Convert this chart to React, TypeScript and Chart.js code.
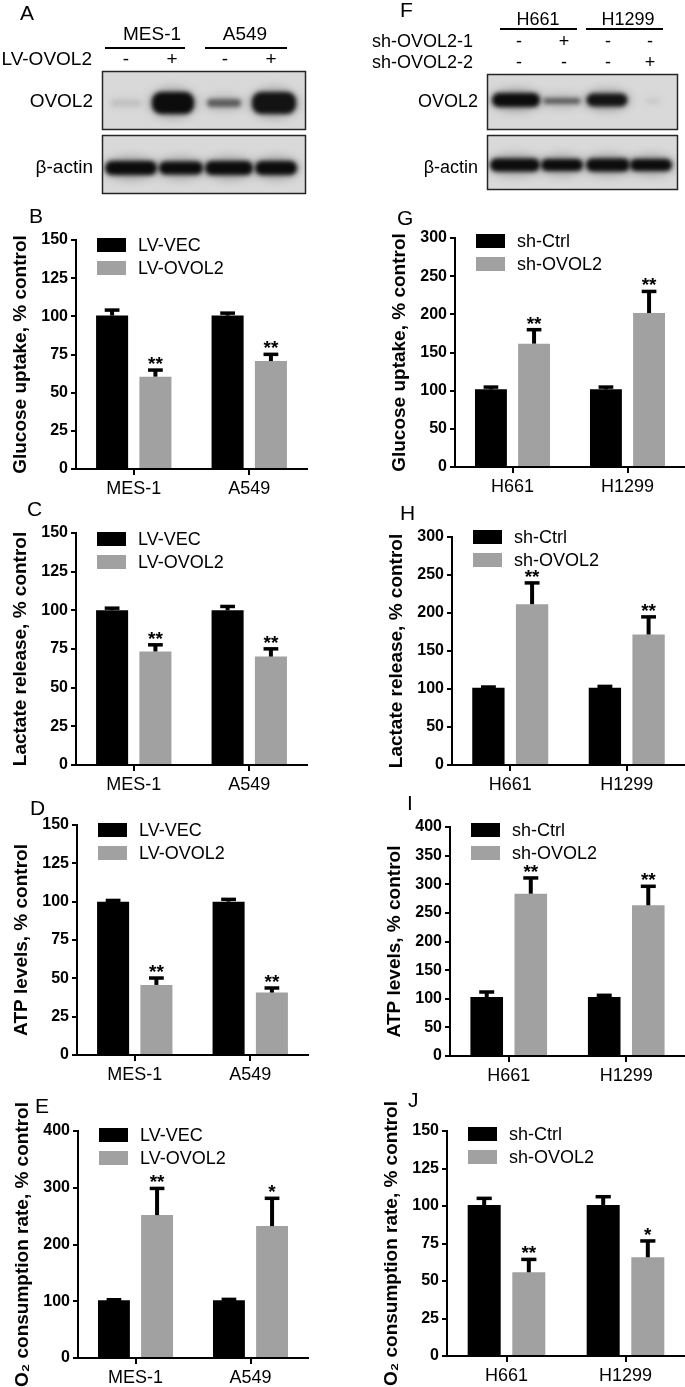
import React, { useEffect, useRef } from "react";
import { Chart, registerables } from "chart.js";

Chart.register(...registerables);

const FONT = "'Liberation Sans', Arial, Helvetica, sans-serif";

// ---------- categories & series ----------
const leftCats = ["MES-1", "A549"];
const rightCats = ["H661", "H1299"];
const leftSeries = ["LV-VEC", "LV-OVOL2"];
const rightSeries = ["sh-Ctrl", "sh-OVOL2"];

// ---------- B: glucose uptake (LV) ----------
const glucoseVec = [100.5, 100.5];
const glucoseVecErr = [3.6, 1.6];
const glucoseOvol = [60.5, 70.7];
const glucoseOvolErr = [4.3, 4.4];
const glucoseOvolSig = ["**", "**"];

// ---------- C: lactate release (LV) ----------
const lactateVec = [100, 100];
const lactateVecErr = [1.4, 2.5];
const lactateOvol = [73.4, 70.1];
const lactateOvolErr = [4.3, 5];
const lactateOvolSig = ["**", "**"];

// ---------- D: ATP levels (LV) ----------
const atpVec = [100, 100];
const atpVecErr = [0.8, 1.5];
const atpOvol = [45.7, 40.7];
const atpOvolErr = [4.5, 3];
const atpOvolSig = ["**", "**"];

// ---------- E: O2 consumption (LV) ----------
const o2Vec = [101.8, 101.8];
const o2VecErr = [0.8, 1.5];
const o2Ovol = [251.8, 232.4];
const o2OvolErr = [47, 49];
const o2OvolSig = ["**", "*"];

// ---------- G: glucose uptake (sh) ----------
const glucoseCtrl = [101.7, 101.7];
const glucoseCtrlErr = [3, 3];
const glucoseSh = [161.6, 201.7];
const glucoseShErr = [18.3, 28.3];
const glucoseShSig = ["**", "**"];

// ---------- H: lactate release (sh) ----------
const lactateCtrl = [101.6, 101.6];
const lactateCtrlErr = [1, 1.8];
const lactateSh = [211.6, 171.7];
const lactateShErr = [28, 23.2];
const lactateShSig = ["**", "**"];

// ---------- I: ATP levels (sh) ----------
const atpCtrl = [103, 103];
const atpCtrlErr = [8.8, 3];
const atpSh = [283.5, 263.2];
const atpShErr = [27.5, 33.2];
const atpShSig = ["**", "**"];

// ---------- J: O2 consumption (sh) ----------
const o2Ctrl = [100.7, 100.7];
const o2CtrlErr = [4.4, 5.5];
const o2Sh = [55.8, 65.8];
const o2ShErr = [8.6, 10.9];
const o2ShSig = ["**", "*"];

// ---------- western blot band intensities ----------
const blotAOvol2 = [0.1, 1, 0.55, 0.95];
const blotAActin = [1, 1, 1, 1];
const blotFOvol2 = [1, 0.55, 0.95, 0.08];
const blotFActin = [1, 1, 1, 1];
const blotASigns = ["-", "+", "-", "+"];
const blotFSigns1 = ["-", "+", "-", "-"];
const blotFSigns2 = ["-", "-", "-", "+"];

// ---------- panel layout ----------
type Panel = {
  side: "L" | "R";
  axisX: number;
  rightX: number;
  topY: number;
  bottomY: number;
  legendDy: number;
  max: number;
  step: number;
  title: string;
  cats: string[];
  series: string[];
  a: number[];
  aErr: number[];
  b: number[];
  bErr: number[];
  sig: string[];
};

const panels: Panel[] = [
  { side: "L", axisX: 76, rightX: 307, topY: 240, bottomY: 469, legendDy: -2, max: 150, step: 25, title: "Glucose uptake, % control", cats: leftCats, series: leftSeries, a: glucoseVec, aErr: glucoseVecErr, b: glucoseOvol, bErr: glucoseOvolErr, sig: glucoseOvolSig },
  { side: "R", axisX: 455, rightX: 685, topY: 238, bottomY: 467, legendDy: -4, max: 300, step: 50, title: "Glucose uptake, % control", cats: rightCats, series: rightSeries, a: glucoseCtrl, aErr: glucoseCtrlErr, b: glucoseSh, bErr: glucoseShErr, sig: glucoseShSig },
  { side: "L", axisX: 76, rightX: 307, topY: 533, bottomY: 765, legendDy: -1, max: 150, step: 25, title: "Lactate release, % control", cats: leftCats, series: leftSeries, a: lactateVec, aErr: lactateVecErr, b: lactateOvol, bErr: lactateOvolErr, sig: lactateOvolSig },
  { side: "R", axisX: 452, rightX: 685, topY: 537, bottomY: 765, legendDy: -7, max: 300, step: 50, title: "Lactate release, % control", cats: rightCats, series: rightSeries, a: lactateCtrl, aErr: lactateCtrlErr, b: lactateSh, bErr: lactateShErr, sig: lactateShSig },
  { side: "L", axisX: 77, rightX: 308, topY: 825, bottomY: 1055, legendDy: -2, max: 150, step: 25, title: "ATP levels, % control", cats: leftCats, series: leftSeries, a: atpVec, aErr: atpVecErr, b: atpOvol, bErr: atpOvolErr, sig: atpOvolSig },
  { side: "R", axisX: 450, rightX: 685, topY: 827, bottomY: 1056, legendDy: -4, max: 400, step: 50, title: "ATP levels, % control", cats: rightCats, series: rightSeries, a: atpCtrl, aErr: atpCtrlErr, b: atpSh, bErr: atpShErr, sig: atpShSig },
  { side: "L", axisX: 78, rightX: 308, topY: 1131, bottomY: 1358, legendDy: -3, max: 400, step: 100, title: "O\u2082 consumption rate, % control", cats: leftCats, series: leftSeries, a: o2Vec, aErr: o2VecErr, b: o2Ovol, bErr: o2OvolErr, sig: o2OvolSig },
  { side: "R", axisX: 447, rightX: 685, topY: 1131, bottomY: 1356, legendDy: -4, max: 150, step: 25, title: "O\u2082 consumption rate, % control", cats: rightCats, series: rightSeries, a: o2Ctrl, aErr: o2CtrlErr, b: o2Sh, bErr: o2ShErr, sig: o2ShSig },
];

const panelLetters = [
  { t: "B", x: 29, y: 223 },
  { t: "G", x: 397, y: 225 },
  { t: "C", x: 27, y: 516 },
  { t: "H", x: 400, y: 520 },
  { t: "D", x: 30, y: 815 },
  { t: "I", x: 407, y: 810 },
  { t: "E", x: 35, y: 1113 },
  { t: "J", x: 408, y: 1107 },
];

// ---------- plugins ----------
const errorBarPlugin = {
  id: "errorBars",
  afterDatasetsDraw(chart: any) {
    const ctx = chart.ctx;
    const yScale = chart.scales.y;
    chart.data.datasets.forEach((ds: any, i: number) => {
      const meta = chart.getDatasetMeta(i);
      meta.data.forEach((bar: any, j: number) => {
        const v = ds.data[j];
        const e = ds.errors[j];
        const yBase = yScale.getPixelForValue(v);
        const yTop = yScale.getPixelForValue(v + e);
        const capW = bar.width * 0.46;
        ctx.save();
        ctx.strokeStyle = "#000";
        ctx.lineCap = "butt";
        ctx.lineWidth = 4;
        ctx.beginPath();
        ctx.moveTo(bar.x, yBase);
        ctx.lineTo(bar.x, yTop);
        ctx.stroke();
        ctx.lineWidth = 3.5;
        ctx.beginPath();
        ctx.moveTo(bar.x - capW / 2, yTop);
        ctx.lineTo(bar.x + capW / 2, yTop);
        ctx.stroke();
        const s = ds.sig ? ds.sig[j] : "";
        if (s) {
          ctx.font = `bold 19px ${FONT}`;
          ctx.fillStyle = "#000";
          ctx.textAlign = "center";
          ctx.textBaseline = "alphabetic";
          const m = ctx.measureText(s);
          const target = yTop - 6;
          ctx.fillText(s, bar.x, target - m.actualBoundingBoxDescent);
        }
        ctx.restore();
      });
    });
  },
};

const innerLegendPlugin = {
  id: "innerLegend",
  afterDraw(chart: any) {
    const ctx = chart.ctx;
    const { left, top } = chart.chartArea;
    const dy = chart.options.plugins.innerLegend?.dy ?? -3;
    chart.data.datasets.forEach((ds: any, i: number) => {
      const bx = left + 21;
      const by = top + dy + i * 23;
      ctx.save();
      ctx.fillStyle = ds.backgroundColor;
      ctx.fillRect(bx, by, 29, 14);
      ctx.font = `18px ${FONT}`;
      ctx.fillStyle = "#000";
      ctx.textAlign = "left";
      ctx.textBaseline = "alphabetic";
      ctx.fillText(ds.label, bx + 41, by + 7 + 0.358 * 18);
      ctx.restore();
    });
  },
};

function BarPanel({ p }: { p: Panel }) {
  const ref = useRef<HTMLCanvasElement | null>(null);
  const canvasLeft = p.side === "L" ? 0 : 340;
  const canvasWidth = p.side === "L" ? 340 : 345;
  const padTop = 40;
  const canvasTop = p.topY - padTop;
  const xH = 34;
  const canvasHeight = p.bottomY + xH - canvasTop;
  const yW = 64.5;
  const padLeft = p.axisX - canvasLeft - yW;
  const padRight = canvasLeft + canvasWidth - p.rightX;

  useEffect(() => {
    if (!ref.current) return;
    const chart = new Chart(ref.current, {
      type: "bar",
      data: {
        labels: p.cats,
        datasets: [
          { label: p.series[0], data: p.a, backgroundColor: "#000000", borderWidth: 0, categoryPercentage: 0.75, barPercentage: 0.74, errors: p.aErr, sig: [] } as any,
          { label: p.series[1], data: p.b, backgroundColor: "#a1a1a1", borderWidth: 0, categoryPercentage: 0.75, barPercentage: 0.74, errors: p.bErr, sig: p.sig } as any,
        ],
      },
      options: {
        animation: false,
        responsive: false,
        maintainAspectRatio: false,
        events: [],
        layout: { padding: { left: padLeft, right: padRight, top: padTop, bottom: 0 } },
        plugins: { legend: { display: false }, tooltip: { enabled: false }, innerLegend: { dy: p.legendDy } } as any,
        scales: {
          x: {
            type: "category",
            offset: true,
            z: 1,
            grid: { display: true, drawOnChartArea: false, drawTicks: true, tickLength: 6, tickColor: "#000", tickWidth: 2, color: "#000", lineWidth: 2, offset: false },
            border: { display: true, color: "#000", width: 2 },
            ticks: { color: "#000", font: { family: FONT, size: 18 }, padding: 3, maxRotation: 0, autoSkip: false },
            afterFit: (s: any) => { s.height = xH; },
          } as any,
          y: {
            min: 0,
            max: p.max,
            z: 1,
            ticks: { stepSize: p.step, color: "#000", font: { family: FONT, size: 16, weight: "bold" }, padding: 3 },
            grid: { display: true, drawOnChartArea: false, drawTicks: true, tickLength: 5, tickColor: "#000", tickWidth: 2, color: "#000", lineWidth: 2 },
            border: { display: true, color: "#000", width: 2 },
            title: { display: true, text: p.title, color: "#000", font: { family: FONT, size: 19, weight: "bold", lineHeight: 1 }, padding: 0 },
            afterFit: (s: any) => { s.width = yW; },
          } as any,
        },
      },
      plugins: [errorBarPlugin, innerLegendPlugin],
    });
    return () => chart.destroy();
  }, []);

  return (
    <canvas
      ref={ref}
      width={canvasWidth}
      height={canvasHeight}
      style={{ position: "absolute", left: canvasLeft, top: canvasTop, width: canvasWidth, height: canvasHeight }}
    />
  );
}

// ---------- western blots ----------
type Band = { cx: number; cy: number; w: number; h: number };
const blotABoxes = [
  { x: 102, y: 71, w: 204, h: 59 },
  { x: 102, y: 135, w: 204, h: 59 },
];
const blotFBoxes = [
  { x: 487, y: 74, w: 191, h: 56 },
  { x: 487, y: 135, w: 191, h: 55 },
];
const blotAOvolGeom: Band[] = [
  { cx: 126, cy: 103, w: 30, h: 6 },
  { cx: 173, cy: 103, w: 42, h: 22 },
  { cx: 224, cy: 103, w: 34, h: 8 },
  { cx: 274, cy: 103, w: 44, h: 22 },
];
const blotAActinGeom: Band[] = [
  { cx: 131, cy: 168, w: 52, h: 14 },
  { cx: 181, cy: 168, w: 44, h: 13 },
  { cx: 229, cy: 168, w: 48, h: 14 },
  { cx: 276, cy: 168, w: 42, h: 14 },
];
const blotFOvolGeom: Band[] = [
  { cx: 516, cy: 100, w: 48, h: 14 },
  { cx: 562, cy: 101, w: 37, h: 6 },
  { cx: 607, cy: 100, w: 41, h: 13 },
  { cx: 653, cy: 101, w: 14, h: 3 },
];
const blotFActinGeom: Band[] = [
  { cx: 515, cy: 165, w: 50, h: 13 },
  { cx: 562, cy: 165, w: 42, h: 12 },
  { cx: 608, cy: 165, w: 44, h: 13 },
  { cx: 651, cy: 165, w: 42, h: 12 },
];

function drawBlot(ctx: CanvasRenderingContext2D, box: any, geom: Band[], vals: number[]) {
  ctx.save();
  ctx.fillStyle = "#d9d9d9";
  ctx.fillRect(box.x, box.y, box.w, box.h);
  ctx.beginPath();
  ctx.rect(box.x, box.y, box.w, box.h);
  ctx.clip();
  geom.forEach((g, i) => {
    const a = vals[i];
    ctx.save();
    ctx.filter = "blur(5px)";
    ctx.fillStyle = `rgba(40,40,40,${0.35 * a})`;
    ctx.beginPath();
    ctx.ellipse(g.cx, g.cy, g.w / 2 + 3, g.h / 2 + 4, 0, 0, Math.PI * 2);
    ctx.fill();
    ctx.restore();
    ctx.save();
    ctx.filter = "blur(2px)";
    ctx.fillStyle = `rgba(12,12,12,${a})`;
    ctx.beginPath();
    const r = Math.min(g.h / 2, 9);
    if ((ctx as any).roundRect) {
      (ctx as any).roundRect(g.cx - g.w / 2, g.cy - g.h / 2, g.w, g.h, r);
    } else {
      ctx.ellipse(g.cx, g.cy, g.w / 2, g.h / 2, 0, 0, Math.PI * 2);
    }
    ctx.fill();
    ctx.restore();
  });
  ctx.restore();
  ctx.save();
  ctx.strokeStyle = "#262626";
  ctx.lineWidth = 1.5;
  ctx.strokeRect(box.x + 0.5, box.y + 0.5, box.w - 1, box.h - 1);
  ctx.restore();
}

function Blots() {
  const ref = useRef<HTMLCanvasElement | null>(null);
  useEffect(() => {
    const c = ref.current;
    if (!c) return;
    const ctx = c.getContext("2d");
    if (!ctx) return;
    ctx.clearRect(0, 0, 685, 200);
    drawBlot(ctx, blotABoxes[0], blotAOvolGeom, blotAOvol2);
    drawBlot(ctx, blotABoxes[1], blotAActinGeom, blotAActin);
    drawBlot(ctx, blotFBoxes[0], blotFOvolGeom, blotFOvol2);
    drawBlot(ctx, blotFBoxes[1], blotFActinGeom, blotFActin);
  }, []);
  return <canvas ref={ref} width={685} height={200} style={{ position: "absolute", left: 0, top: 0, width: 685, height: 200 }} />;
}

function Txt({ x, y, size = 19, weight = "normal", align = "left", children }: any) {
  const style: any = {
    position: "absolute",
    top: y - 0.8465 * size,
    fontSize: size,
    lineHeight: `${size}px`,
    fontWeight: weight,
    whiteSpace: "nowrap",
    color: "#000",
  };
  if (align === "left") style.left = x;
  else if (align === "right") style.right = 685 - x;
  else {
    style.left = x;
    style.transform = "translateX(-50%)";
  }
  return <div style={style}>{children}</div>;
}

function Rule({ x1, x2, y }: any) {
  return <div style={{ position: "absolute", left: x1, top: y - 0.75, width: x2 - x1, height: 1.5, background: "#000" }} />;
}

const blotALanesX = [126, 172, 225, 271];
const blotFLanesX = [519, 564, 608, 650];

export default function App() {
  return (
    <div
      style={{
        position: "absolute",
        left: 0,
        top: 0,
        width: 685,
        height: 1387,
        background: "#fff",
        overflow: "hidden",
        fontFamily: FONT,
      }}
    >
      <Blots />
      <Txt x={20} y={20} size={21}>A</Txt>
      <Txt x={152} y={40} align="center">MES-1</Txt>
      <Txt x={245} y={40} align="center">A549</Txt>
      <Rule x1={105} x2={185} y={48} />
      <Rule x1={205} x2={287} y={48} />
      <Txt x={92} y={65} align="right">LV-OVOL2</Txt>
      {blotASigns.map((s, i) => (
        <Txt key={"as" + i} x={blotALanesX[i]} y={65} align="center">{s}</Txt>
      ))}
      <Txt x={93} y={107} align="right">OVOL2</Txt>
      <Txt x={93} y={173} align="right">β-actin</Txt>

      <Txt x={400} y={17} size={21}>F</Txt>
      <Txt x={538} y={25} size={18} align="center">H661</Txt>
      <Txt x={628} y={25} size={18} align="center">H1299</Txt>
      <Rule x1={500} x2={577} y={29} />
      <Rule x1={586} x2={663} y={29} />
      <Txt x={473} y={47} size={18} align="right">sh-OVOL2-1</Txt>
      <Txt x={473} y={68} size={18} align="right">sh-OVOL2-2</Txt>
      {blotFSigns1.map((s, i) => (
        <Txt key={"f1" + i} x={blotFLanesX[i]} y={47} size={18} align="center">{s}</Txt>
      ))}
      {blotFSigns2.map((s, i) => (
        <Txt key={"f2" + i} x={blotFLanesX[i]} y={68} size={18} align="center">{s}</Txt>
      ))}
      <Txt x={478} y={107} size={18} align="right">OVOL2</Txt>
      <Txt x={478} y={173} size={18} align="right">β-actin</Txt>

      {panels.map((p, i) => (
        <BarPanel key={"p" + i} p={p} />
      ))}
      {panelLetters.map((l) => (
        <Txt key={l.t} x={l.x} y={l.y} size={21}>{l.t}</Txt>
      ))}
    </div>
  );
}
